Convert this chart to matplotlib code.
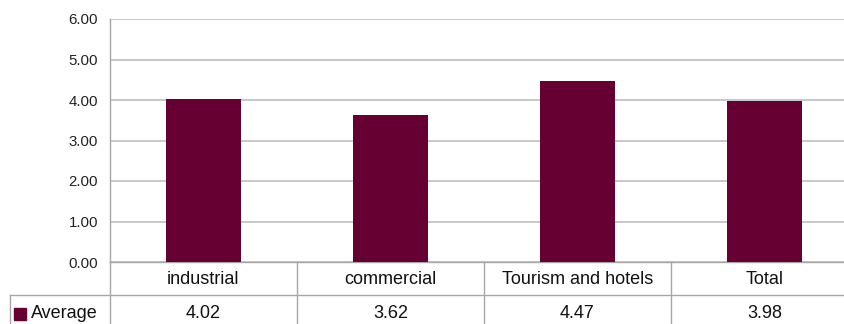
import matplotlib.pyplot as plt
from matplotlib.lines import Line2D
from matplotlib.patches import Rectangle

categories = ["industrial", "commercial", "Tourism and hotels", "Total"]
values = [4.02, 3.62, 4.47, 3.98]
value_labels = ["4.02", "3.62", "4.47", "3.98"]
series_name = "Average"
yticks = [0, 1, 2, 3, 4, 5, 6]

plt.rcParams['font.family'] = ['Liberation Sans', 'DejaVu Sans']

W, H = 845, 324
fig = plt.figure(figsize=(W / 100, H / 100), dpi=100)
x0, x1 = 110, 858
ytop, ybot = 19, 262
ax = fig.add_axes([x0 / W, (H - ybot) / H, (x1 - x0) / W, (ybot - ytop) / H])

bar_color = "#660033"
grid_color = "#bfbfbf"
line_color = "#a6a6a6"
text_color = "#111111"

n = len(categories)
xs = list(range(n))
ax.bar(xs, values, width=0.4, color=bar_color, zorder=3)
ax.set_xlim(-0.5, n - 0.5)
ax.set_ylim(0, 6)
ax.set_yticks(yticks)
ax.set_yticklabels([f"{v:.2f}" for v in yticks], fontsize=10.8, color="#222222")
ax.tick_params(axis='y', length=0, pad=8.5)
ax.tick_params(axis='x', length=0, labelbottom=False)
ax.yaxis.grid(True, color=grid_color, linewidth=1.2, zorder=0)
for s in ["top", "right"]:
    ax.spines[s].set_visible(False)
ax.spines["left"].set_color(line_color)
ax.spines["bottom"].set_color(line_color)
ax.spines["left"].set_linewidth(1.0)
ax.spines["bottom"].set_linewidth(1.0)


def fx(px):
    return px / W


def fy(py):
    return 1 - py / H


lw = 1.0
row1_bottom = 295
row2_bottom = 330
col_w = (x1 - x0) / n
fig.add_artist(Line2D([fx(x0), fx(x0)], [fy(ybot), fy(row2_bottom)], color=line_color, lw=lw))
fig.add_artist(Line2D([fx(10), fx(x1)], [fy(row1_bottom), fy(row1_bottom)], color=line_color, lw=lw))
fig.add_artist(Line2D([fx(10), fx(10)], [fy(row1_bottom), fy(row2_bottom)], color=line_color, lw=lw))
for i in range(1, n):
    xc = x0 + i * col_w
    fig.add_artist(Line2D([fx(xc), fx(xc)], [fy(ybot), fy(row2_bottom)], color=line_color, lw=lw))

for i, (c, v) in enumerate(zip(categories, value_labels)):
    xc = x0 + (i + 0.5) * col_w
    fig.text(fx(xc), fy(279), c, ha='center', va='center',
             fontsize=13, color=text_color)
    fig.text(fx(xc), fy(313), v, ha='center', va='center',
             fontsize=13, color=text_color)

fig.add_artist(Rectangle((fx(14), fy(320)), fx(12), 12 / H, color=bar_color,
                         transform=fig.transFigure))
fig.text(fx(31), fy(314), series_name, ha='left', va='center',
         fontsize=13, color=text_color)

fig.savefig("out.png", dpi=100)
